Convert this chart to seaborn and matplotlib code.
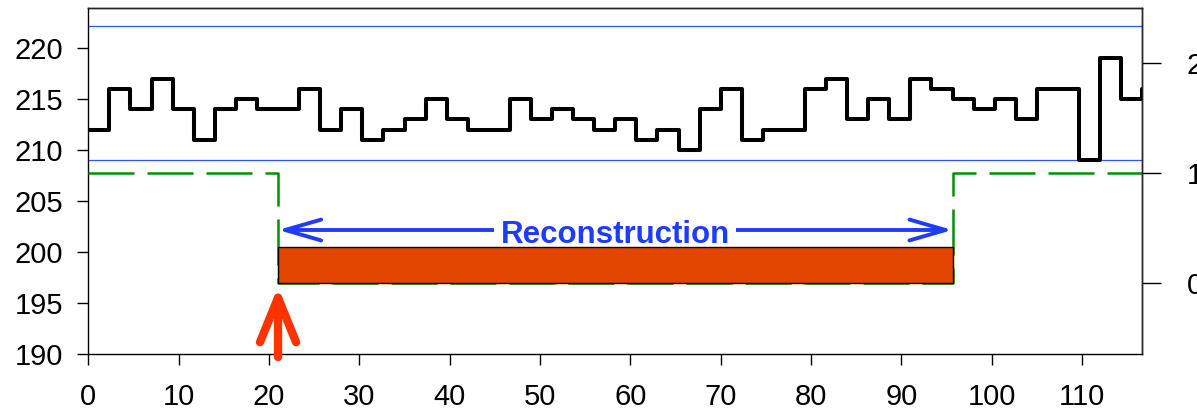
import matplotlib
matplotlib.use("Agg")
import matplotlib.pyplot as plt
import seaborn as sns

# ---- data ----
period_len = 7 / 3          # width of one step on the x axis
levels = [212, 216, 214, 217, 214, 211, 214, 215, 214, 214,
          216, 212, 214, 211, 212, 213, 215, 213, 212, 212,
          215, 213, 214, 213, 212, 213, 211, 212, 210, 214,
          216, 211, 212, 212, 216, 217, 213, 215, 213, 217,
          216, 215, 214, 215, 213, 216, 216, 209, 219, 215, 216]
step_x = [i * period_len for i in range(len(levels))]

upper_limit = 222.2
lower_limit = 209.0

recon_start = 21.0
recon_end = 95.67
flag_x = [0, recon_start, recon_end, 116.67]
flag_vals = [1, 0, 1, 1]
bar_height = 0.332

left_ticks = [190, 195, 200, 205, 210, 215, 220]
bottom_ticks = [0, 10, 20, 30, 40, 50, 60, 70, 80, 90, 100, 110]
right_ticks = [0, 1, 2]
label_text = "Reconstruction"

# ---- style ----
sns.set_style("ticks")
plt.rcParams["font.family"] = ["Liberation Sans", "DejaVu Sans"]

fig = plt.figure(figsize=(11.97, 4.11), dpi=100)
ax = fig.add_axes([0.0738, 0.1387, 0.8805, 0.8411])

blue = "#1E3CFF"
ax.axhline(upper_limit, color="#2F55FF", lw=0.9, zorder=1)
ax.axhline(lower_limit, color="#2F55FF", lw=0.9, zorder=1)

sns.lineplot(x=step_x, y=levels, ax=ax, drawstyle="steps-post", color="black",
             lw=2.9, estimator=None, sort=False, zorder=3)

ax.set_xlim(0, 116.67)
ax.set_ylim(190, 223.9)
ax.set_xticks(bottom_ticks)
ax.set_yticks(left_ticks)
ax.tick_params(axis="both", direction="out", length=8, width=1, labelsize=21,
               colors="black")
ax.tick_params(axis="y", pad=10)
ax.tick_params(axis="x", pad=13)
for s in ax.spines.values():
    s.set_linewidth(1.0)
    s.set_color("black")
    s.set_visible(True)

# blue double arrow + label
ax.annotate("", xy=(recon_start, 202.16), xytext=(recon_end, 202.16),
            arrowprops=dict(arrowstyle="<->,head_length=2.6,head_width=0.75",
                            color=blue, lw=2.8, shrinkA=0, shrinkB=0,
                            mutation_scale=10), zorder=3)
ax.text((recon_start + recon_end) / 2, 200.88, label_text, ha="center",
        va="baseline", fontsize=22.5, fontweight="bold", color=blue,
        bbox=dict(boxstyle="square,pad=0.2", fc="white", ec="none"), zorder=4)

# red arrow
ax.annotate("", xy=(recon_start, 196.6), xytext=(recon_start, 189.7),
            arrowprops=dict(arrowstyle="->,head_length=3.2,head_width=1.3",
                            color="#FF3300", lw=6, shrinkA=0, shrinkB=0,
                            mutation_scale=10),
            annotation_clip=False, zorder=6)

# right axis
ax2 = ax.twinx()
sns.lineplot(x=flag_x, y=flag_vals, ax=ax2, drawstyle="steps-post",
             color="#009000", lw=1.8, linestyle=(0, (18.4, 5.2)),
             estimator=None, sort=False, zorder=2)
ax2.bar(recon_start, bar_height, width=recon_end - recon_start, bottom=0,
        align="edge", color="#E24600", edgecolor="black", lw=1, zorder=5)
ax2.set_ylim(-0.641, 2.493)
ax2.set_yticks(right_ticks)
ax2.tick_params(axis="y", direction="out", length=14, width=1, labelsize=21,
                pad=18, colors="black")
ax2.spines["bottom"].set_visible(False)
ax2.spines["left"].set_visible(False)
ax2.spines["right"].set_linewidth(1.0)
ax2.spines["top"].set_linewidth(1.0)
ax2.set_ylabel("")
ax.set_ylabel("")
ax.set_xlabel("")
if ax.get_legend():
    ax.get_legend().remove()

fig.savefig("out.png", dpi=100)
